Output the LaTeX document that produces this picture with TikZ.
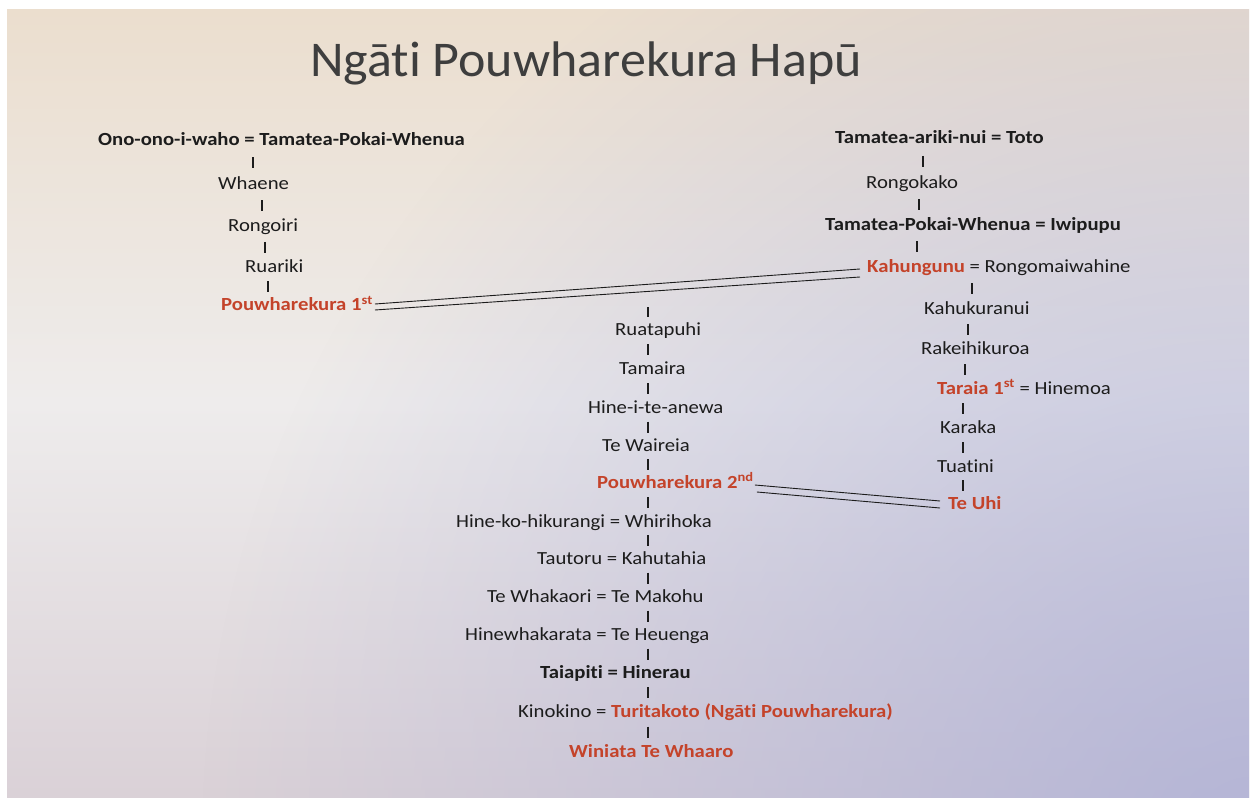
\documentclass[tikz,border=0pt]{standalone}
\usepackage{fontspec}
\setmainfont{Carlito}[FakeStretch=1.12, Ligatures=NoCommon]
\newfontfamily\titlefont{Carlito}[FakeStretch=1.04, Ligatures=NoCommon]
\usetikzlibrary{calc,fadings}

\definecolor{ink}{HTML}{1C1C1C}
\definecolor{kin}{HTML}{C4432A}
\definecolor{paperTop}{HTML}{EBDECE}
\definecolor{paperMid}{HTML}{EEECEC}
\definecolor{paperLow}{HTML}{DAD1D7}
\definecolor{haze}{HTML}{ABAED6}

\tikzfading[name=glow, inner color=transparent!0, outer color=transparent!100]

% vertical descent bar between two generations, at a given x (px)
\newcommand\descend[3]{%
  \draw[link] let \p1=(#1.south), \p2=(#2.north) in
    ({#3pt},{0.5*(\y1+\y2)+5.5pt}) -- ({#3pt},{0.5*(\y1+\y2)-5.5pt});}

\begin{document}
\begin{tikzpicture}[x=1pt,y=-1pt,
  person/.style={anchor=west, inner sep=0pt, text height=12pt, text depth=2pt,
    text=ink, font=\fontsize{18.5}{20}\selectfont},
  chief/.style={person, font=\fontsize{18.5}{20}\selectfont\bfseries},
  line/.style={chief, text=kin},
  link/.style={draw=ink, line width=1.8pt},
  tie/.style={draw=ink, line width=0.9pt},
]
\useasboundingbox (0,0) rectangle (1252,799);

% sheet of paper
\fill[white] (0,0) rectangle (1252,799);
\begin{scope}
  \clip (7,10) rectangle (1249,797);
  \shade[top color=paperTop, bottom color=paperLow, middle color=paperMid]
    (7,10) rectangle (1249,797);
  \fill[haze, fill opacity=0.8, path fading=glow, fit fading=true]
    (1252,840) circle (1050);
\end{scope}

% title
\node[text=ink!85, inner sep=0pt] (title) at (586,63)
  {\titlefont\fontsize{50}{54}\selectfont Ngāti Pouwharekura Hapū};

% left line
\node[chief] (ono) at (98,141) {Ono-ono-i-waho = Tamatea-Pokai-Whenua};
\node[person] (whaene) at (218,185) {Whaene};
\node[person] (rongoiri) at (228,227) {Rongoiri};
\node[person] (ruariki) at (245,268) {Ruariki};
\node[line] (pou1) at (221,306) {Pouwharekura 1\textsuperscript{st}};

% right line
\node[chief] (toto) at (835,139) {Tamatea-ariki-nui = Toto};
\node[person] (rongokako) at (866,184) {Rongokako};
\node[chief] (iwipupu) at (825,226) {Tamatea-Pokai-Whenua = Iwipupu};
\node[person] (kahungunu) at (867,268) {\textcolor{kin}{\bfseries Kahungunu} = Rongomaiwahine};
\node[person] (kahukuranui) at (924,310) {Kahukuranui};
\node[person] (rakeihikuroa) at (921,350) {Rakeihikuroa};
\node[person] (taraia) at (937,389) {{\color{kin}\bfseries Taraia 1\textsuperscript{st}} = Hinemoa};
\node[person] (karaka) at (940,428) {Karaka};
\node[person] (tuatini) at (937,467) {Tuatini};
\node[line] (teuhi) at (948,504) {Te Uhi};

% middle line
\node[person] (ruatapuhi) at (615,330) {Ruatapuhi};
\node[person] (tamaira) at (619,369) {Tamaira};
\node[person] (hineite) at (588,408) {Hine-i-te-anewa};
\node[person] (waireia) at (602,446) {Te Waireia};
\node[line] (pou2) at (597,483) {Pouwharekura 2\textsuperscript{nd}};
\node[person] (whirihoka) at (456,522) {Hine-ko-hikurangi = Whirihoka};
\node[person] (kahutahia) at (537,559) {Tautoru = Kahutahia};
\node[person] (makohu) at (487,597) {Te Whakaori = Te Makohu};
\node[person] (heuenga) at (465,635) {Hinewhakarata = Te Heuenga};
\node[chief] (hinerau) at (540,673) {Taiapiti = Hinerau};
\node[person] (turitakoto) at (518,712) {Kinokino = {\color{kin}\bfseries Turitakoto (Ngāti Pouwharekura)}};
\node[line] (winiata) at (569,752) {Winiata Te Whaaro};

% descent bars
\descend{ono}{whaene}{253}
\descend{whaene}{rongoiri}{262}
\descend{rongoiri}{ruariki}{265}
\descend{ruariki}{pou1}{268}

\descend{toto}{rongokako}{923}
\descend{rongokako}{iwipupu}{919}
\descend{iwipupu}{kahungunu}{917}
\descend{kahungunu}{kahukuranui}{972}
\descend{kahukuranui}{rakeihikuroa}{968}
\descend{rakeihikuroa}{taraia}{965}
\descend{taraia}{karaka}{963}
\descend{karaka}{tuatini}{963}
\descend{tuatini}{teuhi}{963}

\descend{ruatapuhi}{tamaira}{648}
\descend{tamaira}{hineite}{648}
\descend{hineite}{waireia}{648}
\descend{waireia}{pou2}{648}
\descend{pou2}{whirihoka}{648}
\descend{whirihoka}{kahutahia}{648}
\descend{kahutahia}{makohu}{648}
\descend{makohu}{heuenga}{648}
\descend{heuenga}{hinerau}{648}
\descend{hinerau}{turitakoto}{648}
\descend{turitakoto}{winiata}{648}

% double ties between the two Pouwharekura and the eastern line
\draw[tie] ([shift={(2,-2)}]pou1.east) -- ([shift={(-7,1)}]kahungunu.west);
\draw[tie] ([shift={(2,4)}]pou1.east) -- ([shift={(-7,9)}]kahungunu.west);
\draw[tie] ([shift={(1,2)}]pou2.east) -- ([shift={(-8,-3)}]teuhi.west);
\draw[tie] ([shift={(3,9)}]pou2.east) -- ([shift={(-8,4)}]teuhi.west);

% descent from the upper tie into the middle line
\draw[link] let \p1=(ruatapuhi.north) in
  (648pt,{\y1+6pt}) -- (648pt,{\y1+16pt});

\end{tikzpicture}
\end{document}
